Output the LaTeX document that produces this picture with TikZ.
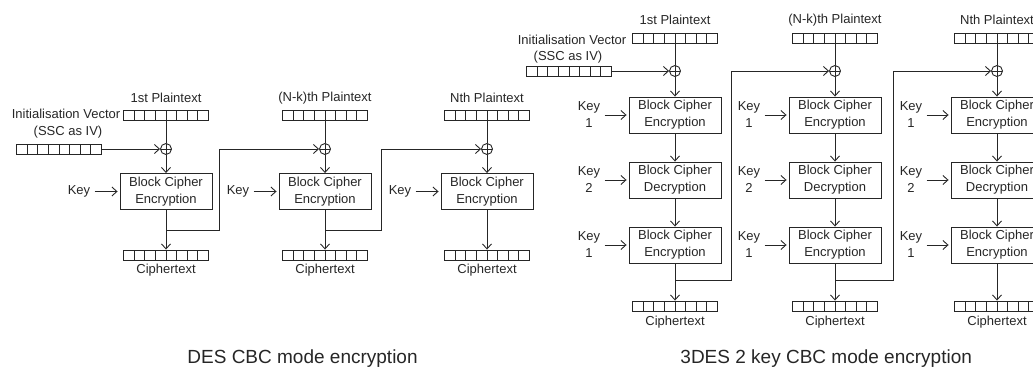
\documentclass[tikz,border=0pt]{standalone}
\usepackage{fontspec}
\setmainfont{Liberation Sans}
\usetikzlibrary{arrows.meta}
\begin{document}
\begin{tikzpicture}[x=1pt,y=-1pt,
  line width=0.9pt, color=black!85,
  lbl/.style={font=\fontsize{13}{17}\selectfont, inner sep=0pt, align=center},
  cipherbox/.style={draw, minimum width=92pt, minimum height=36pt, align=center, inner sep=0pt, font=\fontsize{13}{17}\selectfont},
  reg/.style={draw, minimum width=85pt, minimum height=10pt, inner sep=0pt,
    path picture={\foreach \i in {1,...,7}{\draw ([xshift=\i*10.625pt]path picture bounding box.south west) -- ([xshift=\i*10.625pt]path picture bounding box.north west);}}},
  xorop/.style={draw, circle, minimum size=11pt, inner sep=0pt,
    path picture={\draw (path picture bounding box.north) -- (path picture bounding box.south) (path picture bounding box.west) -- (path picture bounding box.east);}},
  arr/.style={-{Straight Barb[length=5pt,width=9pt]}},
  captxt/.style={font=\fontsize{19}{22}\selectfont, inner sep=0pt}
]
\useasboundingbox (0,0) rectangle (1033,369);

% ================= DES CBC =================
\node[lbl] (ivl) at (66,114) {Initialisation Vector};
\node[lbl] (ivs) at (68,132) {(SSC as IV)};
\node[reg] (iv) at (59,149) {};

\foreach \c/\n/\t in {166/1/1st Plaintext, 325/2/(N-k)th Plaintext, 487/3/Nth Plaintext}{
  \node[lbl] (ptl\n) at (\c,98) {\t};
  \node[reg] (pt\n) at (\c,115) {};
  \node[xorop] (x\n) at (\c,149) {};
  \node[cipherbox] (b\n) at (\c,191.5) {Block Cipher\\Encryption};
  \node[lbl] (key\n) at (\c-87,191.5) {Key};
  \node[reg] (ct\n) at (\c,255) {};
  \node[lbl] (ctl\n) at (\c,270) {Ciphertext};
  \coordinate (f\n) at (\c,230);
  \draw (pt\n) -- (x\n);
  \draw[arr] (x\n) -- (b\n);
  \draw[arr] (b\n) -- (ct\n);
  \draw[arr, shorten <=4pt, shorten >=2pt] (key\n) -- (b\n);
}
\draw[arr] (iv.east) -- (x1.west);
\coordinate (k1) at (219,230);
\coordinate (k2) at (381,230);
\draw[arr] (f1) -- (k1) |- (x2.west);
\draw[arr] (f2) -- (k2) |- (x3.west);

\node[captxt, anchor=base west] (cap1) at (187,363) {DES CBC mode encryption};

% ================= 3DES 2 key CBC =================
\node[lbl] (tivl) at (572,40) {Initialisation Vector};
\node[lbl] (tivs) at (568,57) {(SSC as IV)};
\node[reg] (tiv) at (569,71) {};

\foreach \c/\n/\t in {675/1/1st Plaintext, 835/2/(N-k)th Plaintext, 997/3/Nth Plaintext}{
  \node[lbl] (tptl\n) at (\c,20) {\t};
  \node[reg] (tpt\n) at (\c,38) {};
  \node[xorop] (tx\n) at (\c,71) {};
  \node[cipherbox] (ta\n) at (\c,115) {Block Cipher\\Encryption};
  \node[cipherbox] (tb\n) at (\c,180) {Block Cipher\\Decryption};
  \node[cipherbox] (tc\n) at (\c,245) {Block Cipher\\Encryption};
  \node[lbl] (tka\n) at (\c-86,115) {Key\\1};
  \node[lbl] (tkb\n) at (\c-86,180) {Key\\2};
  \node[lbl] (tkc\n) at (\c-86,245) {Key\\1};
  \node[reg] (tct\n) at (\c,306) {};
  \node[lbl] (tctl\n) at (\c,322) {Ciphertext};
  \coordinate (tf\n) at (\c,280);
  \draw (tpt\n) -- (tx\n);
  \draw[arr] (tx\n) -- (ta\n);
  \draw[arr] (ta\n) -- (tb\n);
  \draw[arr] (tb\n) -- (tc\n);
  \draw[arr] (tc\n) -- (tct\n);
  \draw[arr, shorten <=4pt, shorten >=2pt] (tka\n) -- (ta\n);
  \draw[arr, shorten <=4pt, shorten >=2pt] (tkb\n) -- (tb\n);
  \draw[arr, shorten <=4pt, shorten >=2pt] (tkc\n) -- (tc\n);
}
\draw[arr] (tiv.east) -- (tx1.west);
\coordinate (tk1) at (731,280);
\coordinate (tk2) at (893,280);
\draw[arr] (tf1) -- (tk1) |- (tx2.west);
\draw[arr] (tf2) -- (tk2) |- (tx3.west);

\node[captxt, anchor=base west] (cap2) at (680,363) {3DES 2 key CBC mode encryption};
\end{tikzpicture}
\end{document}
